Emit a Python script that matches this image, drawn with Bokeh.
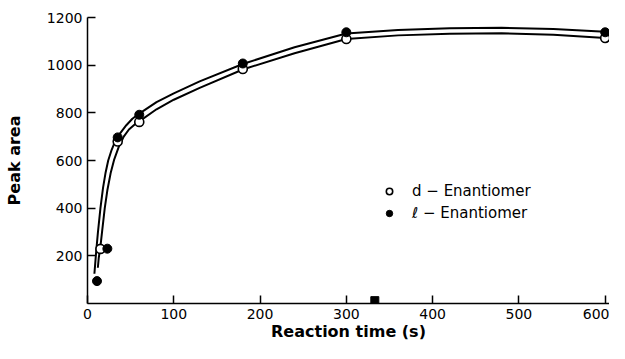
from bokeh.plotting import figure
from bokeh.models import FixedTicker, Range1d, Legend, LegendItem
from bokeh.embed import file_html
from bokeh.resources import INLINE

# measured points
t_d = [15, 35, 60, 180, 300, 600]
area_d = [229, 680, 762, 984, 1110, 1114]
t_l = [11, 23, 35, 60, 180, 300, 600]
area_l = [94, 230, 697, 792, 1007, 1138, 1138]

# fitted curves as drawn
fit_t_l = [8, 10, 12, 15, 18, 21, 24, 28, 32, 38, 45, 52, 60, 80, 100, 130, 180, 240, 300, 360, 420, 480, 540, 600]
fit_l = [125, 215, 295, 400, 485, 550, 600, 645, 680, 715, 748, 775, 797, 845, 882, 932, 1005, 1075, 1133, 1148, 1155, 1157, 1152, 1140]
fit_t_d = [12, 13, 15, 17, 20, 23, 27, 31, 36, 42, 48, 55, 60, 80, 100, 130, 180, 240, 300, 360, 420, 480, 540, 600]
fit_d = [150, 190, 240, 305, 400, 475, 550, 605, 655, 700, 730, 752, 764, 815, 855, 905, 982, 1050, 1110, 1125, 1132, 1134, 1128, 1114]

# stray square mark on the axis
sq_t = [333]
sq_v = [12]

x_ticks = [0, 100, 200, 300, 400, 500, 600]
y_ticks = [200, 400, 600, 800, 1000, 1200]

FONT = "DejaVu Sans"

p = figure(width=609, height=343, output_backend="svg", toolbar_location=None,
           x_range=Range1d(0, 605), y_range=Range1d(0, 1200),
           min_border_left=87, min_border_right=0, min_border_top=17, min_border_bottom=38)
p.outline_line_color = None
p.xgrid.visible = False
p.ygrid.visible = False
p.background_fill_color = "white"
p.border_fill_color = "white"

p.line(fit_t_l, fit_l, line_color="black", line_width=2)
p.line(fit_t_d, fit_d, line_color="black", line_width=2)

r_d = p.scatter(t_d, area_d, size=9, marker="circle", fill_color="white", line_color="black", line_width=1.6)
r_l = p.scatter(t_l, area_l, size=9, marker="circle", fill_color="black", line_color="black")
p.scatter(sq_t, sq_v, size=8, marker="square", fill_color="black", line_color="black")

for ax in (p.xaxis[0], p.yaxis[0]):
    ax.axis_line_color = "black"
    ax.axis_line_width = 1.5
    ax.major_tick_line_color = "black"
    ax.major_tick_line_width = 1.5
    ax.major_tick_in = 8
    ax.major_tick_out = 0
    ax.minor_tick_line_color = None
    ax.major_label_text_font = FONT
    ax.major_label_text_font_size = "14px"
    ax.major_label_text_color = "black"
    ax.axis_label_text_font = FONT
    ax.axis_label_text_font_size = "16px"
    ax.axis_label_text_font_style = "bold"
    ax.axis_label_text_color = "black"

p.xaxis.ticker = FixedTicker(ticks=x_ticks)
p.yaxis.ticker = FixedTicker(ticks=y_ticks)
p.xaxis.major_label_standoff = 5
p.yaxis.major_label_standoff = 5
p.xaxis.axis_label = "Reaction time (s)"
p.yaxis.axis_label = "Peak area"
p.xaxis.axis_label_standoff = 0
p.yaxis.axis_label_standoff = 20

legend = Legend(items=[LegendItem(label="d \u2212 Enantiomer", renderers=[r_d]),
                       LegendItem(label="\u2113 \u2212 Enantiomer", renderers=[r_l])],
                location=(294, 81), orientation="vertical")
legend.background_fill_alpha = 0
legend.border_line_color = None
legend.padding = 0
legend.margin = 0
legend.spacing = 4
legend.glyph_width = 16
legend.glyph_height = 16
legend.label_height = 16
legend.label_standoff = 15
legend.label_text_font = FONT
legend.label_text_font_size = "15px"
legend.label_text_color = "black"
p.add_layout(legend)

open("out.html", "w").write(file_html(p, INLINE))
